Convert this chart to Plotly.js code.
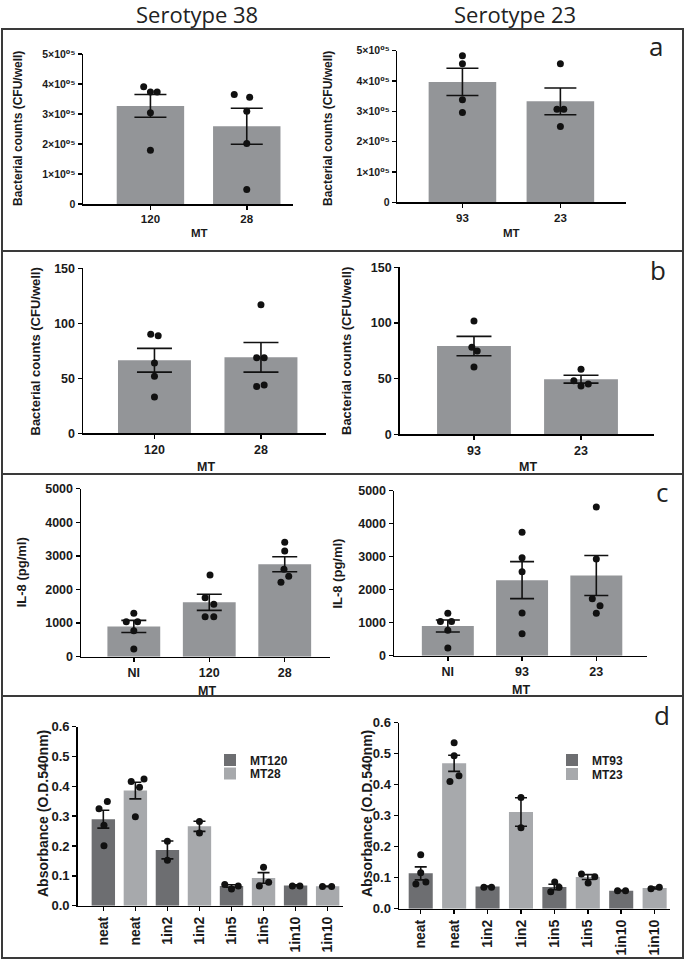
<!DOCTYPE html>
<html>
<head>
<meta charset="utf-8">
<script src="https://cdn.plot.ly/plotly-3.0.1.min.js"></script>
<style>
  html, body { margin: 0; padding: 0; background: #ffffff; }
  #chart { width: 685px; height: 961px; }
</style>
</head>
<body>
<div id="chart"></div>
<script>
// ---------------- DATA ----------------
// Panel a : bacterial counts (CFU/well)
const aCats38 = ['120', '28'];
const aMean38 = [327000, 259000];
const aSem38 = [38000, 60000];
const aPts38_120 = [391000, 373000, 373000, 304000, 179000];
const aPts38_28 = [365000, 356000, 309000, 202000, 48000];
const aJit38_120 = [-0.07, 0, 0.07, 0, 0];
const aJit38_28 = [-0.13, 0.03, 0, 0, 0];

const aCats23 = ['93', '23'];
const aMean23 = [397000, 333000];
const aSem23 = [45000, 44000];
const aPts23_93 = [483000, 457000, 338000, 296000];
const aPts23_23 = [457000, 307000, 307000, 250000];
const aJit23_93 = [0, 0, 0, 0];
const aJit23_23 = [0, -0.035, 0.035, 0];

const aTickVals = [0, 100000, 200000, 300000, 400000, 500000];
const aTickText = ['0', '1×10⁰⁵', '2×10⁰⁵', '3×10⁰⁵', '4×10⁰⁵', '5×10⁰⁵'];

// Panel b : bacterial counts (CFU/well)
const bCats38 = ['120', '28'];
const bMean38 = [66.4, 69.1];
const bSem38 = [10.8, 13.5];
const bPts38_120 = [90, 88.7, 63.9, 51.8, 33];
const bPts38_28 = [116.9, 68.7, 68.7, 42.5, 44];
const bJit38_120 = [-0.035, 0.035, 0, 0, 0];
const bJit38_28 = [0, -0.04, 0.03, -0.04, 0.03];

const bCats23 = ['93', '23'];
const bMean23 = [79.3, 49.5];
const bSem23 = [8.7, 3.5];
const bPts23_93 = [101.8, 78.2, 74.8, 60.5];
const bPts23_23 = [58.4, 48.2, 43.4, 45.2];
const bJit23_93 = [0, -0.02, 0.03, 0];
const bJit23_23 = [0, -0.067, 0, 0.068];

// Panel c : IL-8 (pg/ml)
const cCats38 = ['NI', '120', '28'];
const cMean38 = [900, 1620, 2750];
const cSem38 = [180, 240, 223];
const cPtsNI = [1290, 1040, 1040, 775, 230];
const cJitNI = [0, -0.1, 0.05, 0, 0];
const cPts120 = [2430, 1756, 1560, 1190, 1190];
const cJit120 = [0.01, -0.055, 0.06, -0.055, 0.06];
const cPts28 = [3405, 3146, 2600, 2393, 2214];
const cJit28 = [0, 0, -0.01, 0.053, -0.05];

const cCats23 = ['NI', '93', '23'];
const cMean23 = [900, 2290, 2430];
const cSem23 = [180, 560, 606];
const cPts93 = [3739, 2970, 2545, 1294, 667];
const cJit93 = [0, 0, 0, 0, 0];
const cPts23 = [4506, 2930, 1727, 1515, 1285];
const cJit23 = [0, 0, -0.054, 0.05, 0];

// Panel d : absorbance (O.D.540nm)
const dCats = ['neat', 'neat', '1in2', '1in2', '1in5', '1in5', '1in10', '1in10'];
const dNamesL = ['MT120', 'MT28'];
const dDarkMeanL = [0.29, 0.187, 0.066, 0.068];
const dDarkSemL = [0.03, 0.03, 0.004, 0.002];
const dLightMeanL = [0.386, 0.266, 0.093, 0.065];
const dLightSemL = [0.028, 0.017, 0.018, 0.001];
const dPtsL = [[0.349, 0.325, 0.27, 0.201], [0.416, 0.425, 0.397, 0.298], [0.216, 0.152], [0.282, 0.244],
               [0.071, 0.056, 0.066], [0.129, 0.066, 0.079], [0.066, 0.066], [0.064, 0.064]];
const dJitL = [[0.125, -0.135, 0.02, 0.02], [-0.13, 0.27, 0.13, 0], [0, 0], [0, 0],
               [-0.21, 0, 0.21], [0, -0.13, 0.16], [-0.1, 0.135], [-0.16, 0.125]];

const dNamesR = ['MT93', 'MT23'];
const dDarkMeanR = [0.114, 0.072, 0.07, 0.058];
const dDarkSemR = [0.021, 0.001, 0.009, 0.001];
const dLightMeanR = [0.469, 0.312, 0.102, 0.067];
const dLightSemR = [0.026, 0.046, 0.008, 0.003];
const dPtsR = [[0.174, 0.116, 0.08, 0.086], [0.535, 0.493, 0.429, 0.41], [0.069, 0.069], [0.359, 0.261],
               [0.086, 0.069, 0.055], [0.112, 0.083, 0.103], [0.058, 0.058], [0.064, 0.069]];
const dJitR = [[0, 0, -0.145, 0.155], [0, 0, 0.145, -0.125], [-0.11, 0.12], [0, 0],
               [0.01, 0.14, -0.11], [-0.19, 0.01, 0.21], [-0.11, 0.13], [-0.11, 0.14]];

// ---------------- STYLE / LAYOUT ----------------
const W = 685, H = 961;
const FONT = 'Liberation Sans, Arial, Helvetica, DejaVu Sans, sans-serif';
const TXT = '#1a1a1a';
const BAR = '#939598';
const DARK = '#6d6e71';
const LIGHT = '#a7a9ac';
const fx = p => p / W;
const fy = p => 1 - p / H;

const traces = [];
const layout = {
  width: W, height: H,
  margin: {l: 0, r: 0, t: 0, b: 0},
  paper_bgcolor: '#ffffff', plot_bgcolor: 'rgba(0,0,0,0)',
  barmode: 'overlay',
  showlegend: true,
  annotations: [], shapes: []
};

function idx(n) { return Array.from({length: n}, (_, i) => i); }

function addAxes(n, spec) {
  const xs = n === 1 ? '' : String(n);
  layout['xaxis' + xs] = {
    domain: [fx(spec.xd[0]), fx(spec.xd[1])],
    anchor: 'y' + xs, range: spec.xr,
    tickmode: 'array', tickvals: idx(spec.cats.length), ticktext: spec.cats,
    tickangle: spec.xangle || 0,
    showgrid: false, zeroline: false, showline: true, linecolor: '#000', linewidth: 1.5,
    ticks: 'outside', ticklen: 4, tickwidth: 1.5, tickcolor: '#000',
    tickfont: {family: FONT, size: spec.xfs, color: TXT, weight: 700},
    automargin: false, fixedrange: true
  };
  const ya = {
    domain: [fy(spec.yd[1]), fy(spec.yd[0])],
    anchor: 'x' + xs, range: spec.yr,
    showgrid: false, zeroline: false, showline: true, linecolor: '#000', linewidth: 1.5,
    ticks: 'outside', ticklen: 4, tickwidth: 1.5, tickcolor: '#000',
    tickfont: {family: FONT, size: spec.yfs, color: TXT, weight: 700},
    automargin: false, fixedrange: true
  };
  Object.assign(ya, spec.ytick);
  layout['yaxis' + xs] = ya;
}

function pointsTrace(n, groups, jits) {
  const xs = n === 1 ? '' : String(n);
  const x = [], y = [];
  groups.forEach((g, i) => g.forEach((v, k) => { x.push(i + jits[i][k]); y.push(v); }));
  traces.push({
    type: 'scatter', mode: 'markers', x: x, y: y,
    xaxis: 'x' + xs, yaxis: 'y' + xs, showlegend: false, hoverinfo: 'skip',
    marker: {size: 7, color: '#111111'}
  });
}

function barTrace(n, xvals, means, sems, color, width, cap, name, legend) {
  const xs = n === 1 ? '' : String(n);
  const t = {
    type: 'bar', x: xvals, y: means, width: width,
    xaxis: 'x' + xs, yaxis: 'y' + xs,
    marker: {color: color, line: {width: 0}},
    error_y: {type: 'data', array: sems, visible: true, color: '#111111', thickness: 1.6, width: cap},
    hoverinfo: 'skip', showlegend: !!name
  };
  if (name) { t.name = name; t.legend = legend; }
  traces.push(t);
}

const aTick = {tickmode: 'array', tickvals: aTickVals, ticktext: aTickText};
const bTick = {tickmode: 'linear', tick0: 0, dtick: 50};
const cTick = {tickmode: 'linear', tick0: 0, dtick: 1000};
const dTick = {tickmode: 'linear', tick0: 0, dtick: 0.1, tickformat: '.1f'};

// Panel a
addAxes(1, {xd: [83, 293], yd: [54, 204], xr: [-0.7, 1.48], yr: [0, 500000], cats: aCats38, xfs: 11.5, yfs: 10.5, ytick: aTick});
barTrace(1, idx(2), aMean38, aSem38, BAR, 0.7, 16);
pointsTrace(1, [aPts38_120, aPts38_28], [aJit38_120, aJit38_28]);

addAxes(2, {xd: [397.3, 626], yd: [50.7, 202.3], xr: [-0.665, 1.67], yr: [0, 500000], cats: aCats23, xfs: 11.5, yfs: 10.5, ytick: aTick});
barTrace(2, idx(2), aMean23, aSem23, BAR, 0.69, 16);
pointsTrace(2, [aPts23_93, aPts23_23], [aJit23_93, aJit23_23]);

// Panel b
addAxes(3, {xd: [83, 325.5], yd: [268.3, 433.3], xr: [-0.671, 1.606], yr: [0, 150], cats: bCats38, xfs: 12.5, yfs: 12.5, ytick: bTick});
barTrace(3, idx(2), bMean38, bSem38, BAR, 0.685, 17.5);
pointsTrace(3, [bPts38_120, bPts38_28], [bJit38_120, bJit38_28]);

addAxes(4, {xd: [399.7, 654], yd: [267.3, 434.3], xr: [-0.694, 1.682], yr: [0, 150], cats: bCats23, xfs: 12.5, yfs: 12.5, ytick: bTick});
barTrace(4, idx(2), bMean23, bSem23, BAR, 0.69, 17.5);
pointsTrace(4, [bPts23_93, bPts23_23], [bJit23_93, bJit23_23]);

// Panel c
addAxes(5, {xd: [81, 330], yd: [488.7, 656.7], xr: [-0.7, 2.6], yr: [0, 5000], cats: cCats38, xfs: 12.5, yfs: 12.5, ytick: cTick});
barTrace(5, idx(3), cMean38, cSem38, BAR, 0.7, 12.5);
pointsTrace(5, [cPtsNI, cPts120, cPts28], [cJitNI, cJit120, cJit28]);

addAxes(6, {xd: [394, 646.5], yd: [490.7, 655.7], xr: [-0.725, 2.676], yr: [0, 5000], cats: cCats23, xfs: 12.5, yfs: 12.5, ytick: cTick});
barTrace(6, idx(3), cMean23, cSem23, BAR, 0.7, 12);
pointsTrace(6, [cPtsNI, cPts93, cPts23], [cJitNI, cJit93, cJit23]);

// Panel d
const evenIdx = [0, 2, 4, 6], oddIdx = [1, 3, 5, 7];
addAxes(7, {xd: [77.7, 343], yd: [726.7, 905.7], xr: [-0.8, 7.48], yr: [0, 0.6], cats: dCats, xangle: -90, xfs: 14, yfs: 13, ytick: dTick});
barTrace(7, evenIdx, dDarkMeanL, dDarkSemL, DARK, 0.73, 6, dNamesL[0], 'legend');
barTrace(7, oddIdx, dLightMeanL, dLightSemL, LIGHT, 0.73, 6, dNamesL[1], 'legend2');
pointsTrace(7, dPtsL, dJitL);

addAxes(8, {xd: [399, 670], yd: [722.7, 908.7], xr: [-0.65, 7.46], yr: [0, 0.6], cats: dCats, xangle: -90, xfs: 14, yfs: 13, ytick: dTick});
barTrace(8, evenIdx, dDarkMeanR, dDarkSemR, DARK, 0.72, 6, dNamesR[0], 'legend3');
barTrace(8, oddIdx, dLightMeanR, dLightSemR, LIGHT, 0.72, 6, dNamesR[1], 'legend4');
pointsTrace(8, dPtsR, dJitR);

const legendStyle = {
  xanchor: 'left', yanchor: 'middle', bgcolor: 'rgba(0,0,0,0)', borderwidth: 0,
  font: {family: FONT, size: 12, color: TXT, weight: 700}, itemwidth: 30
};
layout.legend  = Object.assign({x: fx(210), y: fy(760)}, legendStyle);
layout.legend2 = Object.assign({x: fx(210), y: fy(773.5)}, legendStyle);
layout.legend3 = Object.assign({x: fx(552), y: fy(760)}, legendStyle);
layout.legend4 = Object.assign({x: fx(552), y: fy(774)}, legendStyle);

// Text: headers, axis titles, panel letters
function ann(text, x, y, size, opts) {
  layout.annotations.push(Object.assign({
    text: text, x: fx(x), y: fy(y), xref: 'paper', yref: 'paper',
    xanchor: 'center', yanchor: 'middle', showarrow: false,
    font: {family: FONT, size: size, color: TXT, weight: 700}
  }, opts || {}));
}
const headFont = s => ({font: {family: 'Open Sans, Noto Sans, sans-serif', size: s, color: '#222', weight: 400}});

ann('Serotype 38', 196.7, 14, 22, headFont(22));
ann('Serotype 23', 515, 14, 22, headFont(22));
ann('a', 655.5, 46, 26, headFont(26));
ann('b', 658, 270, 26, headFont(26));
ann('c', 662, 492, 26, headFont(26));
ann('d', 661.7, 715, 26, headFont(26));

const yt = 'Bacterial counts (CFU/well)';
ann(yt, 18, 129, 12, {textangle: -90});
ann(yt, 328, 129, 12, {textangle: -90});
ann(yt, 35, 351.5, 13, {textangle: -90});
ann(yt, 347, 351, 13, {textangle: -90});
ann('IL-8 (pg/ml)', 21, 572.3, 13, {textangle: -90});
ann('IL-8 (pg/ml)', 337.3, 573.3, 13, {textangle: -90});
ann('Absorbance (O.D.540nm)', 43, 814, 14, {textangle: -90});
ann('Absorbance (O.D.540nm)', 367, 814, 14, {textangle: -90});

ann('MT', 199, 233, 11.5);
ann('MT', 511, 233, 11.5);
ann('MT', 206, 467, 12.5);
ann('MT', 528, 467, 12.5);
ann('MT', 207, 691, 12.5);
ann('MT', 521, 690, 12.5);

// Panel frames
[[29, 251], [251, 474], [474, 696], [696, 958]].forEach(r => {
  layout.shapes.push({
    type: 'rect', xref: 'paper', yref: 'paper',
    x0: fx(2), x1: fx(683), y0: fy(r[1]), y1: fy(r[0]),
    line: {color: '#3a3a3a', width: 2}, fillcolor: 'rgba(0,0,0,0)'
  });
});

Plotly.newPlot('chart', traces, layout, {staticPlot: true, displayModeBar: false});
</script>
</body>
</html>
